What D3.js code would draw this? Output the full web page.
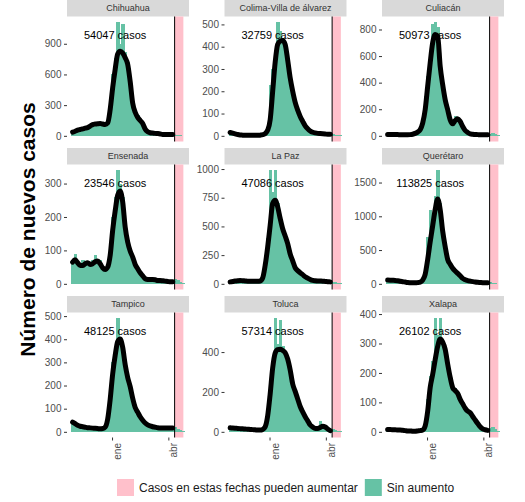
<!DOCTYPE html>
<meta charset="utf-8">
<title>Número de nuevos casos</title>
<style>

body {
  margin: 0;
}

svg, .axis {
  font-family: "Liberation Sans", Arial, sans-serif;
}

.strip rect {
  fill: #d9d9d9;
}

.strip text {
  font-size: 9px;
  fill: #333;
  text-anchor: middle;
}

.axis text {
  font-size: 10px;
  fill: #4d4d4d;
}

.axis line {
  stroke: #333;
}

.bars rect {
  shape-rendering: crispEdges;
}

.total {
  font-size: 11px;
  text-anchor: middle;
}

.avg {
  fill: none;
  stroke: #000;
  stroke-width: 5;
  stroke-linejoin: round;
  stroke-linecap: round;
}

.legend text {
  font-size: 12px;
  fill: #1a1a1a;
}

</style>
<svg width="525" height="502"></svg>
<script src="https://d3js.org/d3.v7.min.js"></script>
<script>

var cities = ["Chihuahua", "Colima-Villa de álvarez", "Culiacán", "Ensenada", "La Paz",
    "Querétaro", "Tampico", "Toluca", "Xalapa"];
var totals = [54047, 32759, 50973, 23546, 47086, 113825, 48125, 57314, 26102];

var yTicks = [
  [0, 300, 600, 900],
  [0, 100, 200, 300, 400, 500],
  [0, 200, 400, 600, 800],
  [0, 100, 200, 300],
  [0, 250, 500, 750, 1000],
  [0, 500, 1000, 1500],
  [0, 100, 200, 300, 400, 500],
  [0, 200, 400],
  [0, 100, 200, 300, 400]
];

var xTickDates = ["2021-01-01", "2021-04-01"];
var xTickLabels = ["ene", "abr"];

// cases in 4-day bins starting on firstDate; averages stop at the pending window
var firstDate = "2020-10-30", binDays = 4;
var pendingStart = "2021-04-11", pendingEnd = "2021-04-25";
var totalLabelDate = "2021-01-06";

var barsChihuahua = [40,45,50,65,70,72,85,90,105,112,120,118,110,105,140,350,600,760,1111,900,1090,820,720,560,330,240,200,150,120,70,45,32,28,25,22,20,15,14,12,12,12,8,6,5,3];
var avgChihuahua = [36,45,55,62,68,75,80,95,110,115,118,120,115,110,125,257,470,650,800,828,810,763,700,530,320,230,180,150,120,65,40,30,27,24,22,18,14,13,12,12,12];

var barsColima = [18,13,9,6,4,3,2,2,2,2,2,2,3,5,10,40,230,300,380,510,470,440,420,330,260,200,150,115,85,62,45,32,22,16,13,11,10,9,8,7,7,6,5,4,2];
var avgColima = [15,12,9,6,4,3,2,2,2,2,2,2,3,5,10,25,72,200,330,410,425,428,410,340,260,200,150,115,87,65,45,32,22,16,13,11,10,9,8,7,7];

var barsCuliacan = [10,10,9,9,9,8,8,8,8,9,12,18,28,50,110,300,450,640,840,855,820,560,390,280,200,125,95,150,135,110,72,42,25,15,12,10,9,8,8,8,8,15,20,10,5];
var avgCuliacan = [10,10,9,9,9,8,8,8,8,9,12,18,28,45,95,196,372,548,700,762,750,523,385,272,196,120,90,115,128,108,70,40,25,15,12,10,9,8,8,8,8];

var barsEnsenada = [60,90,65,55,72,58,68,55,70,85,65,70,50,42,55,110,200,260,340,300,260,170,130,95,75,55,40,32,22,15,13,13,14,12,10,10,9,8,7,6,6,15,10,6,3];
var avgEnsenada = [65,72,63,55,55,60,63,58,60,66,68,60,48,43,50,85,160,218,265,278,245,170,125,98,80,58,45,33,24,15,13,13,13,12,10,10,9,8,7,6,6];

var barsLaPaz = [17,20,26,28,30,27,25,23,23,23,24,23,25,60,250,400,990,800,990,700,600,480,420,350,265,200,145,115,95,80,62,48,38,30,27,25,24,23,21,19,17,20,15,10,5];
var avgLaPaz = [17,20,24,27,29,27,25,23,23,23,23,23,25,50,160,320,510,700,729,670,570,480,417,350,260,200,140,115,96,80,62,50,38,30,27,25,24,23,21,19,17];

var barsQueretaro = [55,54,52,50,45,38,32,26,20,17,15,15,18,25,60,200,700,1100,1000,1300,1683,1200,750,500,370,290,230,190,155,120,80,60,48,40,33,27,23,20,17,15,15,25,15,8,4];
var avgQueretaro = [55,54,52,50,45,38,32,26,20,17,15,15,18,25,55,140,360,620,860,1100,1255,1100,780,550,361,290,230,190,155,120,80,60,48,40,33,27,23,20,17,15,15];

var barsTampico = [45,35,28,24,22,20,18,17,16,15,14,13,14,20,70,200,300,360,491,410,370,300,240,195,145,105,85,65,50,38,30,26,22,20,18,17,17,17,17,17,17,20,12,8,4];
var avgTampico = [42,35,28,24,22,20,18,17,16,15,14,13,14,20,55,140,250,330,390,401,365,290,235,195,145,105,85,65,50,38,30,26,22,20,18,17,17,17,17,17,17];

var barsToluca = [22,20,18,17,16,15,14,13,12,11,10,9,9,12,30,100,250,350,570,440,560,430,400,360,310,240,200,165,125,100,76,55,34,22,17,17,55,30,24,14,6,12,10,6,3];
var avgToluca = [20,19,18,17,16,15,14,13,12,11,10,9,9,12,25,80,190,320,395,412,414,408,397,365,310,240,203,165,127,100,76,55,34,24,17,17,22,28,24,14,6];

var barsXalapa = [8,8,7,7,6,6,5,4,3,3,2,2,3,4,8,40,110,190,240,386,330,386,300,260,230,195,150,150,120,110,95,80,70,65,50,40,28,17,10,6,5,12,15,8,4];
var avgXalapa = [8,8,7,7,6,6,5,4,3,3,2,2,3,4,6,20,70,150,195,245,290,315,305,280,230,185,150,140,130,110,95,80,70,65,52,40,28,17,10,7,5];

var bars = [barsChihuahua, barsColima, barsCuliacan, barsEnsenada, barsLaPaz,
    barsQueretaro, barsTampico, barsToluca, barsXalapa];
var avgs = [avgChihuahua, avgColima, avgCuliacan, avgEnsenada, avgLaPaz,
    avgQueretaro, avgTampico, avgToluca, avgXalapa];

var legendLabels = ["Casos en estas fechas pueden aumentar", "Sin aumento"];
var legendColors = ["pink", "#66c2a5"];

var svg = d3.select("svg");

var colX = [67, 224.5, 382],
    rowY = [0, 148, 296],
    panelWidth = 122,
    stripHeight = 16.5,
    panelHeight = 125;

var parse = d3.utcParse("%Y-%m-%d"),
    start = parse(firstDate);

var x = d3.scaleUtc()
    .domain([parse("2020-10-21"), parse("2021-05-04")])
    .range([0, panelWidth]);

function binDate(k, shift) {
  return d3.utcHour.offset(start, (k * binDays + (shift || 0)) * 24);
}

cities.forEach(function(name, i) {
  var g = svg.append("g")
      .attr("transform", "translate(" + colX[i % 3] + "," + rowY[Math.floor(i / 3)] + ")");

  var top = stripHeight,
      bottom = stripHeight + panelHeight,
      max = d3.max(bars[i]);

  var y = d3.scaleLinear()
      .domain([-0.05 * max, 1.05 * max])
      .range([bottom, top]);

  var strip = g.append("g").attr("class", "strip");
  strip.append("rect")
      .attr("width", panelWidth)
      .attr("height", stripHeight);
  strip.append("text")
      .attr("x", panelWidth / 2)
      .attr("y", stripHeight / 2)
      .attr("dy", ".35em")
      .text(name);

  g.append("rect")
      .attr("x", x(parse(pendingStart)))
      .attr("y", top)
      .attr("width", x(parse(pendingEnd)) - x(parse(pendingStart)))
      .attr("height", panelHeight)
      .attr("fill", legendColors[0]);

  g.append("g")
      .attr("class", "bars")
    .selectAll("rect")
      .data(bars[i])
    .enter().append("rect")
      .attr("fill", legendColors[1])
      .attr("x", function(d, k) { return x(binDate(k, -binDays / 2)); })
      .attr("width", function(d, k) { return x(binDate(k, binDays / 2)) - x(binDate(k, -binDays / 2)) + 1; })
      .attr("y", function(d) { return y(d); })
      .attr("height", function(d) { return y(0) - y(d); });

  g.append("text")
      .attr("class", "total")
      .attr("x", x(parse(totalLabelDate)))
      .attr("y", top + 18.5)
      .attr("dy", ".35em")
      .text(totals[i] + " casos");

  g.append("path")
      .datum(avgs[i])
      .attr("class", "avg")
      .attr("d", d3.line()
          .x(function(d, k) { return x(binDate(k)); })
          .y(function(d) { return y(d); })
          .curve(d3.curveMonotoneX));

  g.append("line")
      .attr("x1", x(parse(pendingStart)))
      .attr("x2", x(parse(pendingStart)))
      .attr("y1", top)
      .attr("y2", bottom)
      .attr("stroke", "#000")
      .attr("stroke-width", 1);

  g.append("g")
      .attr("class", "axis")
      .call(d3.axisLeft(y)
          .tickValues(yTicks[i])
          .tickFormat(d3.format("d"))
          .tickSize(3)
          .tickPadding(2.5))
      .call(function(a) { a.select(".domain").remove(); });

  if (i >= 6) {
    g.append("g")
        .attr("class", "axis")
        .attr("transform", "translate(0," + bottom + ")")
        .call(d3.axisBottom(x)
            .tickValues(xTickDates.map(parse))
            .tickSize(3)
            .tickFormat(function(d, k) { return xTickLabels[k]; }))
        .call(function(a) { a.select(".domain").remove(); })
      .selectAll("text")
        .attr("transform", "rotate(-90)")
        .attr("text-anchor", "end")
        .attr("x", -5.5)
        .attr("y", 8.5)
        .attr("dy", null);
  }
});

svg.append("text")
    .attr("transform", "translate(35,229.5) rotate(-90)")
    .attr("text-anchor", "middle")
    .style("font-size", "21px")
    .style("font-weight", "bold")
    .text("Número de nuevos casos");

var legend = svg.append("g")
    .attr("class", "legend")
    .attr("transform", "translate(117,479)");

var cursor = 0;
legendLabels.forEach(function(label, i) {
  legend.append("rect")
      .attr("x", cursor)
      .attr("width", 17)
      .attr("height", 17)
      .attr("fill", legendColors[i]);
  var t = legend.append("text")
      .attr("x", cursor + 22)
      .attr("y", 8.5)
      .attr("dy", ".35em")
      .text(label);
  cursor += 22 + t.node().getComputedTextLength() + 7;
});

</script>
